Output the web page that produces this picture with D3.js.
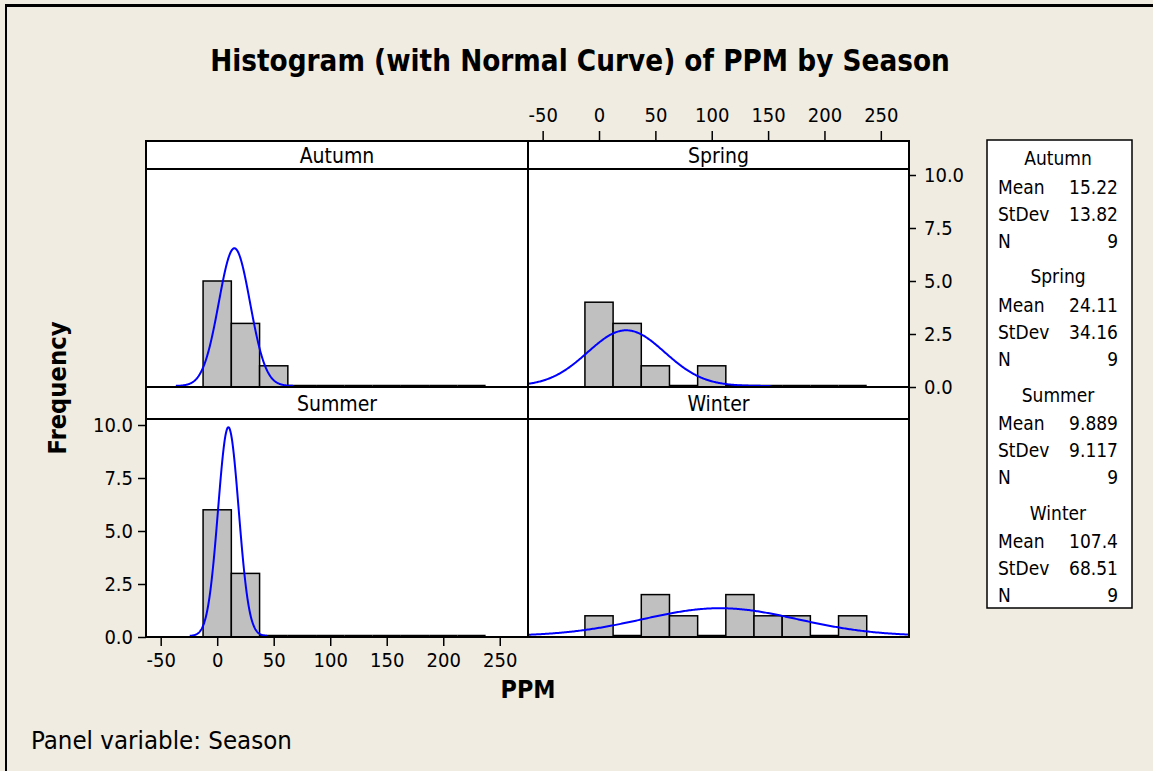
<!DOCTYPE html>
<html><head><meta charset="utf-8">
<script src="https://cdn.jsdelivr.net/npm/d3@7"></script>
<style>
html,body{margin:0;padding:0;background:#F0ECE2;}
svg{display:block;}
text{font-family:"DejaVu Sans Condensed","DejaVu Sans",sans-serif;fill:#000;}
</style></head>
<body>
<svg id="chart" width="1153" height="771"></svg>
<script>
// ---------- data ----------
const seasons = ["Autumn", "Spring", "Summer", "Winter"];
const binMids = [0, 25, 50, 75, 100, 125, 150, 175, 200, 225];
const binWidth = 25;
const autumnCounts = [5, 3, 1, 0, 0, 0, 0, 0, 0, 0];
const springCounts = [4, 3, 1, 0, 1, 0, 0, 0, 0, 0];
const summerCounts = [6, 3, 0, 0, 0, 0, 0, 0, 0, 0];
const winterCounts = [1, 0, 2, 1, 0, 2, 1, 1, 0, 1];
const means = [15.22, 24.11, 9.889, 107.4];
const stdevs = [13.82, 34.16, 9.117, 68.51];
const ns = [9, 9, 9, 9];
const xTicks = [-50, 0, 50, 100, 150, 200, 250];
const yTicks = [0, 2.5, 5, 7.5, 10];

const counts = [autumnCounts, springCounts, summerCounts, winterCounts];

// ---------- layout ----------
const svg = d3.select("#chart");
const colX = [[146, 528], [528, 909]];
const rowStrip = [[141, 169], [387, 419]];
const rowPlot = [[169, 387], [419, 637]];
const xDomain = [-63, 275];

// outer frame
svg.append("rect").attr("x", 0).attr("y", 0).attr("width", 1153).attr("height", 771).attr("fill", "#F0ECE2");
svg.append("line").attr("x1", 6).attr("x2", 1153).attr("y1", 5.5).attr("y2", 5.5).attr("stroke", "#000").attr("stroke-width", 3);
svg.append("line").attr("x1", 6).attr("x2", 6).attr("y1", 4).attr("y2", 771).attr("stroke", "#000").attr("stroke-width", 2);

function fitText(sel, target) {
  const w = sel.node().getComputedTextLength();
  const fs = parseFloat(sel.attr("font-size"));
  sel.attr("font-size", fs * target / w);
}

// title
const title = svg.append("text").attr("x", 580).attr("y", 71).attr("text-anchor", "middle")
  .attr("font-size", 28).attr("font-weight", "bold")
  .text("Histogram (with Normal Curve) of PPM by Season");
fitText(title, 740);

const tickFont = 20;
seasons.forEach((s, i) => {
  const col = i % 2, row = Math.floor(i / 2);
  const [x0, x1] = colX[col];
  const [sy0, sy1] = rowStrip[row];
  const [py0, py1] = rowPlot[row];
  const x = d3.scaleLinear().domain(xDomain).range([x0, x1]);
  const y = d3.scaleLinear().domain([0, 10]).range([py1, py1 - 212]);
  const g = svg.append("g");
  g.append("rect").attr("x", x0).attr("y", sy0).attr("width", x1 - x0).attr("height", py1 - sy0)
    .attr("fill", "#fff");
  const cid = "clip" + i;
  svg.append("clipPath").attr("id", cid).append("rect")
    .attr("x", x0).attr("y", py0).attr("width", x1 - x0).attr("height", py1 - py0);
  const pg = g.append("g").attr("clip-path", `url(#${cid})`);
  // bars
  binMids.forEach((m, j) => {
    const c = counts[i][j];
    const bx0 = x(m - binWidth / 2), bx1 = x(m + binWidth / 2);
    if (c > 0) {
      pg.append("rect").attr("x", bx0).attr("y", y(c)).attr("width", bx1 - bx0).attr("height", y(0) - y(c))
        .attr("fill", "#C0C0C0").attr("stroke", "#000").attr("stroke-width", 1.5);
    } else {
      pg.append("line").attr("x1", bx0).attr("x2", bx1).attr("y1", y(0) - 1).attr("y2", y(0) - 1)
        .attr("stroke", "#000").attr("stroke-width", 2.5);
    }
  });
  // normal curve from the panel's mean / stdev
  const mu = means[i], sd = stdevs[i], n = ns[i];
  const lo = Math.max(xDomain[0], mu - 3.75 * sd), hi = Math.min(xDomain[1], mu + 3.75 * sd);
  const pts = d3.range(0, 301).map(k => {
    const xv = lo + (hi - lo) * k / 300;
    const z = (xv - mu) / sd;
    return [xv, n * binWidth * Math.exp(-0.5 * z * z) / (sd * Math.sqrt(2 * Math.PI))];
  });
  pg.append("path").attr("d", d3.line().x(d => x(d[0])).y(d => y(d[1]) - 1)(pts))
    .attr("fill", "none").attr("stroke", "#0000FF").attr("stroke-width", 2);
  // strip
  g.append("rect").attr("x", x0).attr("y", sy0).attr("width", x1 - x0).attr("height", sy1 - sy0)
    .attr("fill", "#fff").attr("stroke", "#000").attr("stroke-width", 2);
  g.append("text").attr("x", (x0 + x1) / 2).attr("y", (sy0 + sy1) / 2 + 7.5).attr("text-anchor", "middle")
    .attr("font-size", 21).text(s);
  // frame
  g.append("rect").attr("x", x0).attr("y", sy0).attr("width", x1 - x0).attr("height", py1 - sy0)
    .attr("fill", "none").attr("stroke", "#000").attr("stroke-width", 2);

  const fmtY = d3.format(".1f");
  const fmtX = d => String(d);
  const style = a => {
    a.select(".domain").remove();
    a.selectAll("text").attr("font-size", tickFont).attr("font-family", null);
    a.selectAll("line").attr("stroke-width", 1.5);
  };
  if (i === 2) {
    style(svg.append("g").attr("transform", `translate(0,${py1})`)
      .call(d3.axisBottom(x).tickValues(xTicks).tickFormat(fmtX).tickSize(9).tickPadding(7)));
    style(svg.append("g").attr("transform", `translate(${x0},0)`)
      .call(d3.axisLeft(y).tickValues(yTicks).tickFormat(fmtY).tickSize(8).tickPadding(5)));
  }
  if (i === 1) {
    style(svg.append("g").attr("transform", `translate(0,${sy0})`)
      .call(d3.axisTop(x).tickValues(xTicks).tickFormat(fmtX).tickSize(10).tickPadding(9)));
    style(svg.append("g").attr("transform", `translate(${x1},0)`)
      .call(d3.axisRight(y).tickValues(yTicks).tickFormat(fmtY).tickSize(7).tickPadding(8)));
  }
});

// axis titles
const ft = svg.append("text").attr("transform", "translate(66,388) rotate(-90)").attr("text-anchor", "middle")
  .attr("font-size", 21).attr("font-weight", "bold").text("Frequency");
fitText(ft, 133);
const pt = svg.append("text").attr("x", 528).attr("y", 698).attr("text-anchor", "middle")
  .attr("font-size", 21).attr("font-weight", "bold").text("PPM");
fitText(pt, 55);
const pv = svg.append("text").attr("x", 31).attr("y", 749).attr("font-size", 22).text("Panel variable: Season");
fitText(pv, 261);

// legend
svg.append("rect").attr("x", 987).attr("y", 140).attr("width", 145).attr("height", 468)
  .attr("fill", "#fff").attr("stroke", "#000").attr("stroke-width", 1.5);
const fmt4 = v => v.toPrecision(4);
const legFont = 19;
seasons.forEach((s, i) => {
  const gy = 158 + i * 118.3;
  svg.append("text").attr("x", 1058).attr("y", gy + 7).attr("text-anchor", "middle").attr("font-size", legFont).text(s);
  const rows = [["Mean", fmt4(means[i])], ["StDev", fmt4(stdevs[i])], ["N", String(ns[i])]];
  rows.forEach((r, k) => {
    const ry = gy + 28.5 + k * 27 + 7;
    svg.append("text").attr("x", 998).attr("y", ry).attr("font-size", legFont).text(r[0]);
    svg.append("text").attr("x", 1118).attr("y", ry).attr("text-anchor", "end").attr("font-size", legFont).text(r[1]);
  });
});
</script>
</body></html>
